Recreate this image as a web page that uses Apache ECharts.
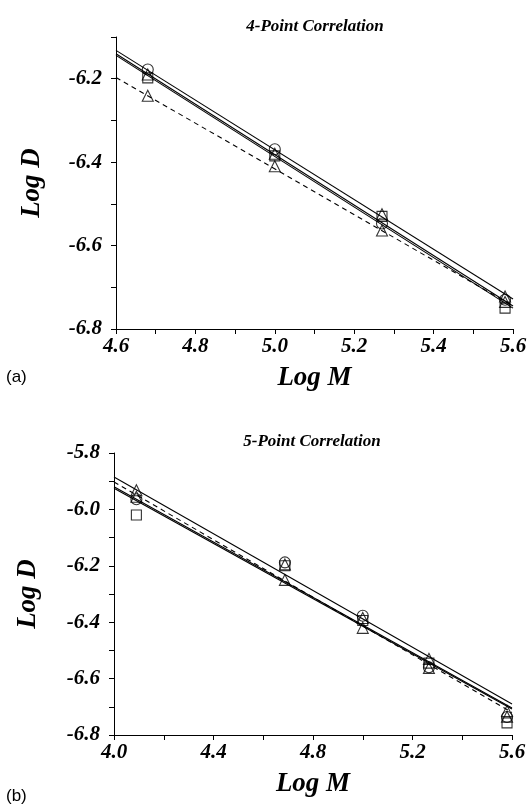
<!DOCTYPE html>
<html>
<head>
<meta charset="utf-8">
<script src="https://cdn.jsdelivr.net/npm/echarts@6/dist/echarts.min.js"></script>
<style>
  html, body { margin: 0; padding: 0; background: #fff; }
  #main { width: 530px; height: 807px; }
</style>
</head>
<body>
<div id="main"></div>
<script>
// (a) 4-point correlation
var xA = [4.68, 5.0, 5.27, 5.58];
var circA = [-6.178, -6.369, -6.547, -6.730];
var sqA = [-6.198, -6.385, -6.530, -6.750];
var triA = [-6.241, -6.410, -6.564, -6.735];
var tri2A = [-6.190, -6.380, -6.525, -6.722];
var fitXA = [4.6, 5.6];
var fitA1 = [-6.132, -6.728];
var fitA2 = [-6.140, -6.745];
var fitA3 = [-6.144, -6.750];
var fitADash = [-6.197, -6.745];

// (b) 5-point correlation
var xB = [4.09, 4.687, 5.0, 5.266, 5.58];
var circB = [-5.964, -6.188, -6.377, -6.560, -6.736];
var sqB = [-6.020, -6.200, -6.394, -6.545, -6.757];
var triB = [-5.955, -6.250, -6.420, -6.562, -6.735];
var tri2B = [-5.932, -6.195, -6.385, -6.530, -6.715];
var fitXB = [4.0, 5.6];
var fitB1 = [-5.885, -6.690];
var fitB2 = [-5.920, -6.704];
var fitB3 = [-5.925, -6.708];
var fitBDash = [-5.903, -6.720];

var serif = 'Liberation Serif';

function pairs(xs, ys) {
    return xs.map(function (x, i) { return [x, ys[i]]; });
}

// label only every other tick
function everyOther(step) {
    return function (v) {
        var n = Math.round(Math.abs(v) * 10);
        return n % step === 0 ? v.toFixed(1) : '';
    };
}

function makeX(idx, min, max, interval, step) {
    return {
        type: 'value', gridIndex: idx, min: min, max: max, interval: interval,
        name: 'Log M', nameLocation: 'middle', nameGap: 36,
        nameTextStyle: { color: '#000', fontFamily: serif, fontWeight: 'bold', fontStyle: 'italic', fontSize: 27 },
        axisLine: { lineStyle: { color: '#000', width: 1 } },
        axisTick: { length: 5, lineStyle: { color: '#000' } },
        axisLabel: { color: '#000', fontFamily: serif, fontWeight: 'bold', fontStyle: 'italic', fontSize: 21, margin: 7, formatter: everyOther(step) },
        splitLine: { show: false }
    };
}

function makeY(idx, min, max, gap) {
    return {
        type: 'value', gridIndex: idx, min: min, max: max, interval: 0.1,
        name: 'Log D', nameLocation: 'middle', nameGap: gap, nameRotate: 90,
        nameTextStyle: { color: '#000', fontFamily: serif, fontWeight: 'bold', fontStyle: 'italic', fontSize: 27 },
        axisLine: { show: true, lineStyle: { color: '#000', width: 1 } },
        axisTick: { show: true, length: 5, lineStyle: { color: '#000' } },
        axisLabel: { color: '#000', fontFamily: serif, fontWeight: 'bold', fontStyle: 'italic', fontSize: 21, margin: 14, formatter: everyOther(2) },
        splitLine: { show: false }
    };
}

function fit(name, idx, xs, ys, dashed) {
    return {
        name: name, type: 'line', xAxisIndex: idx, yAxisIndex: idx,
        data: pairs(xs, ys), symbol: 'none', silent: true, z: 3,
        lineStyle: { color: '#000', width: 1.1, type: dashed ? [5, 4] : 'solid' }
    };
}

function pts(name, idx, xs, ys, symbol, size) {
    return {
        name: name, type: 'scatter', xAxisIndex: idx, yAxisIndex: idx,
        data: pairs(xs, ys), symbol: symbol, symbolSize: size, z: 2,
        itemStyle: { color: 'rgba(255,255,255,0)', borderColor: '#000', borderWidth: 1.1 }
    };
}

var myChart = echarts.init(document.getElementById('main'));

var option = {
    backgroundColor: '#fff',
    animation: false,
    title: [
        { text: '4-Point Correlation', left: 310, top: 13, textAlign: 'center',
          textStyle: { fontFamily: serif, fontWeight: 'bold', fontStyle: 'italic', fontSize: 17, color: '#000' } },
        { text: '5-Point Correlation', left: 307, top: 428, textAlign: 'center',
          textStyle: { fontFamily: serif, fontWeight: 'bold', fontStyle: 'italic', fontSize: 17, color: '#000' } }
    ],
    graphic: [
        { type: 'text', left: 6, top: 369, style: { text: '(a)', font: '17px "Liberation Sans"', fill: '#000' } },
        { type: 'text', left: 6, top: 788, style: { text: '(b)', font: '17px "Liberation Sans"', fill: '#000' } }
    ],
    grid: [
        { left: 116, top: 37, width: 397, height: 292 },
        { left: 114, top: 453, width: 398, height: 282 }
    ],
    xAxis: [
        makeX(0, 4.6, 5.6, 0.1, 2),
        makeX(1, 4.0, 5.6, 0.2, 4)
    ],
    yAxis: [
        makeY(0, -6.8, -6.1, 70),
        makeY(1, -6.8, -5.8, 72)
    ],
    series: [
        fit('fitA1', 0, fitXA, fitA1, false),
        fit('fitA2', 0, fitXA, fitA2, false),
        fit('fitA3', 0, fitXA, fitA3, false),
        fit('fitADash', 0, fitXA, fitADash, true),
        pts('circA', 0, xA, circA, 'circle', 11),
        pts('sqA', 0, xA, sqA, 'rect', 10),
        pts('triA', 0, xA, triA, 'triangle', 11),
        pts('tri2A', 0, xA, tri2A, 'triangle', 11),

        fit('fitB1', 1, fitXB, fitB1, false),
        fit('fitB2', 1, fitXB, fitB2, false),
        fit('fitB3', 1, fitXB, fitB3, false),
        fit('fitBDash', 1, fitXB, fitBDash, true),
        pts('circB', 1, xB, circB, 'circle', 11),
        pts('sqB', 1, xB, sqB, 'rect', 10),
        pts('triB', 1, xB, triB, 'triangle', 11),
        pts('tri2B', 1, xB, tri2B, 'triangle', 11)
    ]
};

myChart.setOption(option);
</script>
</body>
</html>
